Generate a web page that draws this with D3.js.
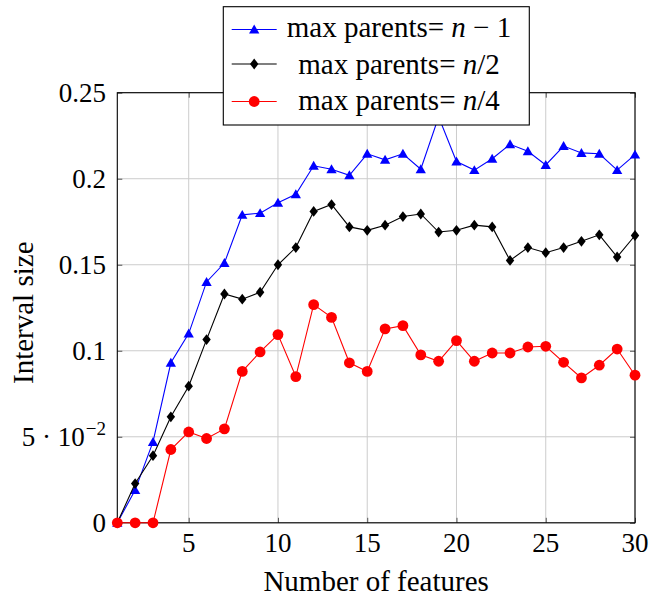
<!DOCTYPE html>
<html>
<head>
<meta charset="utf-8">
<script src="https://cdn.jsdelivr.net/npm/d3@7"></script>
<style>
  html, body { margin: 0; padding: 0; background: #fff; }
  svg { display: block; }
  svg text { font-family: "Liberation Serif", "Times New Roman", serif; fill: #000; }
</style>
</head>
<body>
<svg id="chart" width="652" height="603"></svg>
<script>
// ---- data ----
const features = d3.range(1, 31);
const seriesFull = [0, 0.019, 0.047, 0.093, 0.110, 0.140, 0.151, 0.179, 0.180, 0.186,
  0.191, 0.2075, 0.2055, 0.202, 0.2145, 0.211, 0.2145, 0.2055, 0.236, 0.210,
  0.205, 0.2116, 0.220, 0.216, 0.208, 0.219, 0.215, 0.2145, 0.205, 0.214];
const seriesHalf = [0, 0.0228, 0.039, 0.0616, 0.0794, 0.1065, 0.133, 0.130, 0.134, 0.150,
  0.160, 0.181, 0.185, 0.172, 0.170, 0.173, 0.178, 0.1795, 0.169, 0.170,
  0.173, 0.172, 0.1525, 0.160, 0.157, 0.160, 0.1636, 0.1674, 0.1545, 0.167];
const seriesQuarter = [0, 0, 0, 0.0426, 0.0528, 0.049, 0.0546, 0.088, 0.0993, 0.1094,
  0.085, 0.1268, 0.1194, 0.093, 0.088, 0.1127, 0.1146, 0.0976, 0.0939, 0.1059,
  0.0939, 0.0987, 0.0987, 0.1022, 0.1026, 0.0933, 0.0842, 0.0916, 0.101, 0.0858];
const xTicks = [5, 10, 15, 20, 25, 30];
const yTicks = [0, 0.05, 0.1, 0.15, 0.2, 0.25];
const yTickLabels = ["0", "5 · 10", "0.1", "0.15", "0.2", "0.25"];
const yTickExp = ["", "−2", "", "", "", ""];
const legendLabels = [["max parents= ", "n", " − 1"], ["max parents= ", "n", "/2"], ["max parents= ", "n", "/4"]];
const xLabel = "Number of features";
const yLabel = "Interval size";

// ---- layout ----
const L = 117.3, R = 635, T = 92.7, B = 522.8;
const FONT = "Liberation Serif, Times New Roman, serif";
const svg = d3.select("#chart");
const x = d3.scaleLinear().domain([1, 30]).range([L, R]);
const y = d3.scaleLinear().domain([0, 0.25]).range([B, T]);

// grid
const grid = svg.append("g");
grid.selectAll("line.gx").data(xTicks).join("line")
  .attr("x1", d => x(d)).attr("x2", d => x(d)).attr("y1", T).attr("y2", B)
  .attr("stroke", "#cccccc").attr("stroke-width", 1);
grid.selectAll("line.gy").data(yTicks).join("line")
  .attr("x1", L).attr("x2", R).attr("y1", d => y(d)).attr("y2", d => y(d))
  .attr("stroke", "#cccccc").attr("stroke-width", 1);

// axes ticks (inside) on all sides
function styleAxis(g) {
  g.select(".domain").remove();
  g.selectAll(".tick line").attr("stroke", "#555").attr("stroke-width", 1);
  g.selectAll(".tick text").remove();
}
svg.append("g").attr("transform", `translate(0,${B})`)
  .call(d3.axisBottom(x).tickValues(xTicks).tickSize(-5)).call(styleAxis);
svg.append("g").attr("transform", `translate(0,${T})`)
  .call(d3.axisTop(x).tickValues(xTicks).tickSize(-5)).call(styleAxis);
svg.append("g").attr("transform", `translate(${L},0)`)
  .call(d3.axisLeft(y).tickValues(yTicks).tickSize(-5)).call(styleAxis);
svg.append("g").attr("transform", `translate(${R},0)`)
  .call(d3.axisRight(y).tickValues(yTicks).tickSize(-5)).call(styleAxis);

// frame
svg.append("rect").attr("x", L).attr("y", T).attr("width", R - L).attr("height", B - T)
  .attr("fill", "none").attr("stroke", "#000").attr("stroke-width", 1.1);

// tick labels
svg.append("g").selectAll("text").data(xTicks).join("text")
  .attr("font-family", FONT)
  .attr("x", d => x(d)).attr("y", 551.5).attr("text-anchor", "middle")
  .attr("font-size", 27).text(d => String(d));

const yl = svg.append("g").selectAll("text").data(yTicks).join("text")
  .attr("font-family", FONT)
  .attr("x", 106).attr("y", d => y(d) + 9).attr("text-anchor", "end")
  .attr("font-size", 27);
yl.each(function(d, i) {
  const t = d3.select(this);
  t.append("tspan").text(yTickLabels[i]);
  if (yTickExp[i]) {
    t.append("tspan").attr("font-size", 19).attr("dx", 1).attr("dy", -11).text(yTickExp[i]);
  }
});

// axis labels
svg.append("text").attr("font-family", FONT).attr("x", (L + R) / 2).attr("y", 591).attr("text-anchor", "middle")
  .attr("font-size", 29).text(xLabel);
svg.append("text").attr("font-family", FONT).attr("transform", `translate(33,${(T + B) / 2 + 5}) rotate(-90)`)
  .attr("text-anchor", "middle").attr("font-size", 29).text(yLabel);

// markers
const triangle = d3.symbol().type(d3.symbolTriangle).size(46);
const diamondPath = "M0,-5.4L4.2,0L0,5.4L-4.2,0Z";
const series = [
  { values: seriesFull, color: "#0000ff", mark: "tri" },
  { values: seriesHalf, color: "#000000", mark: "dia" },
  { values: seriesQuarter, color: "#ff0000", mark: "circ" }
];
const line = d3.line().x((d, i) => x(features[i])).y(d => y(d));

function drawMark(g, kind, color) {
  if (kind === "tri") g.append("path").attr("d", triangle()).attr("transform", "translate(0,1)").attr("fill", color);
  else if (kind === "dia") g.append("path").attr("d", diamondPath).attr("fill", color);
  else g.append("circle").attr("r", 5.4).attr("fill", color);
}

series.forEach(s => {
  svg.append("path").datum(s.values).attr("d", line)
    .attr("fill", "none").attr("stroke", s.color).attr("stroke-width", 1.1);
  svg.append("g").selectAll("g").data(s.values).join("g")
    .attr("transform", (d, i) => `translate(${x(features[i])},${y(d)})`)
    .each(function() { drawMark(d3.select(this), s.mark, s.color); });
});

// legend
const lg = svg.append("g");
lg.append("rect").attr("x", 223.3).attr("y", 6.7).attr("width", 306).attr("height", 118.3)
  .attr("fill", "#fff").attr("stroke", "#000").attr("stroke-width", 1.1);
const rowMark = [29.5, 64, 101.5];
const rowBase = [37, 73.5, 110];
series.forEach((s, i) => {
  lg.append("line").attr("x1", 231.7).attr("x2", 276.7).attr("y1", rowMark[i]).attr("y2", rowMark[i])
    .attr("stroke", s.color).attr("stroke-width", 1.1);
  const m = lg.append("g").attr("transform", `translate(254.2,${rowMark[i]})`);
  drawMark(m, s.mark, s.color);
  const t = lg.append("text").attr("font-family", FONT).attr("x", 399).attr("y", rowBase[i])
    .attr("text-anchor", "middle").attr("font-size", 29);
  t.append("tspan").text(legendLabels[i][0]);
  t.append("tspan").attr("font-style", "italic").text(legendLabels[i][1]);
  t.append("tspan").text(legendLabels[i][2]);
});
</script>
</body>
</html>
